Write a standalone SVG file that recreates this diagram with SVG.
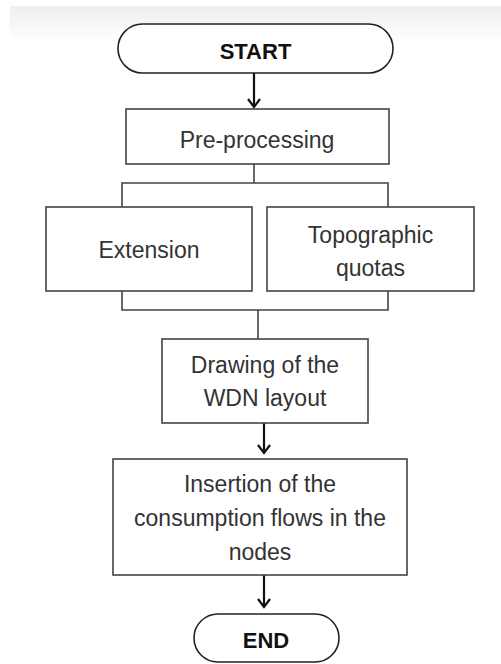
<svg xmlns="http://www.w3.org/2000/svg" width="501" height="664" viewBox="0 0 501 664">
  <defs>
    <linearGradient id="topfade" x1="0" y1="0" x2="0" y2="1">
      <stop offset="0" stop-color="#eceef0"/>
      <stop offset="1" stop-color="#ffffff"/>
    </linearGradient>
    <style>
      .box { fill: #ffffff; stroke: #444; stroke-width: 1.6; }
      .term { fill: #ffffff; stroke: #222; stroke-width: 1.6; }
      .lbl { font-family: "Liberation Sans", Arial, sans-serif; font-size: 23px; fill: #333; text-anchor: middle; }
      .bold { font-family: "Liberation Sans", Arial, sans-serif; font-size: 22px; font-weight: bold; fill: #111; text-anchor: middle; }
      .line { fill: none; stroke: #444; stroke-width: 1.6; }
      .arr { fill: none; stroke: #111; stroke-width: 2.2; }
      .head { fill: none; stroke: #111; stroke-width: 2.2; stroke-linejoin: miter; }
    </style>
  </defs>

  <rect x="0" y="0" width="501" height="664" fill="#ffffff"/>
  <rect x="10" y="6" width="491" height="36" fill="url(#topfade)"/>

  <g id="connectors">
    <line class="arr" x1="254" y1="73" x2="254" y2="107"/>
    <polyline class="head" points="248,99 254,107 260,99"/>
    <line class="line" x1="254" y1="164" x2="254" y2="183"/>
    <polyline class="line" points="122,207 122,183 388,183 388,207"/>
    <polyline class="line" points="122,291 122,310 388,310 388,291"/>
    <line class="line" x1="258" y1="310" x2="258" y2="339"/>
    <line class="arr" x1="264" y1="423" x2="264" y2="453"/>
    <polyline class="head" points="258,445 264,453 270,445"/>
    <line class="arr" x1="264" y1="575" x2="264" y2="607"/>
    <polyline class="head" points="258,599 264,607 270,599"/>
  </g>

  <g id="start">
    <rect class="term" x="118" y="24" width="275" height="49" rx="24.5"/>
    <text class="bold" x="255.5" y="59">START</text>
  </g>

  <g id="preprocessing">
    <rect class="box" x="126" y="109" width="263" height="55"/>
    <text class="lbl" x="257" y="148">Pre-processing</text>
  </g>

  <g id="extension">
    <rect class="box" x="46" y="207" width="206" height="84"/>
    <text class="lbl" x="149" y="258">Extension</text>
  </g>

  <g id="topographic">
    <rect class="box" x="267" y="207" width="207" height="84"/>
    <text class="lbl" x="370.5" y="243">Topographic</text>
    <text class="lbl" x="370.5" y="276">quotas</text>
  </g>

  <g id="drawing">
    <rect class="box" x="162" y="339" width="206" height="84"/>
    <text class="lbl" x="265" y="373">Drawing of the</text>
    <text class="lbl" x="265" y="406">WDN layout</text>
  </g>

  <g id="insertion">
    <rect class="box" x="113" y="459" width="294" height="116"/>
    <text class="lbl" x="260" y="492">Insertion of the</text>
    <text class="lbl" x="260" y="526">consumption flows in the</text>
    <text class="lbl" x="260" y="560">nodes</text>
  </g>

  <g id="end">
    <rect class="term" x="194" y="614" width="145" height="48" rx="24"/>
    <text class="bold" x="266" y="648">END</text>
  </g>
</svg>
